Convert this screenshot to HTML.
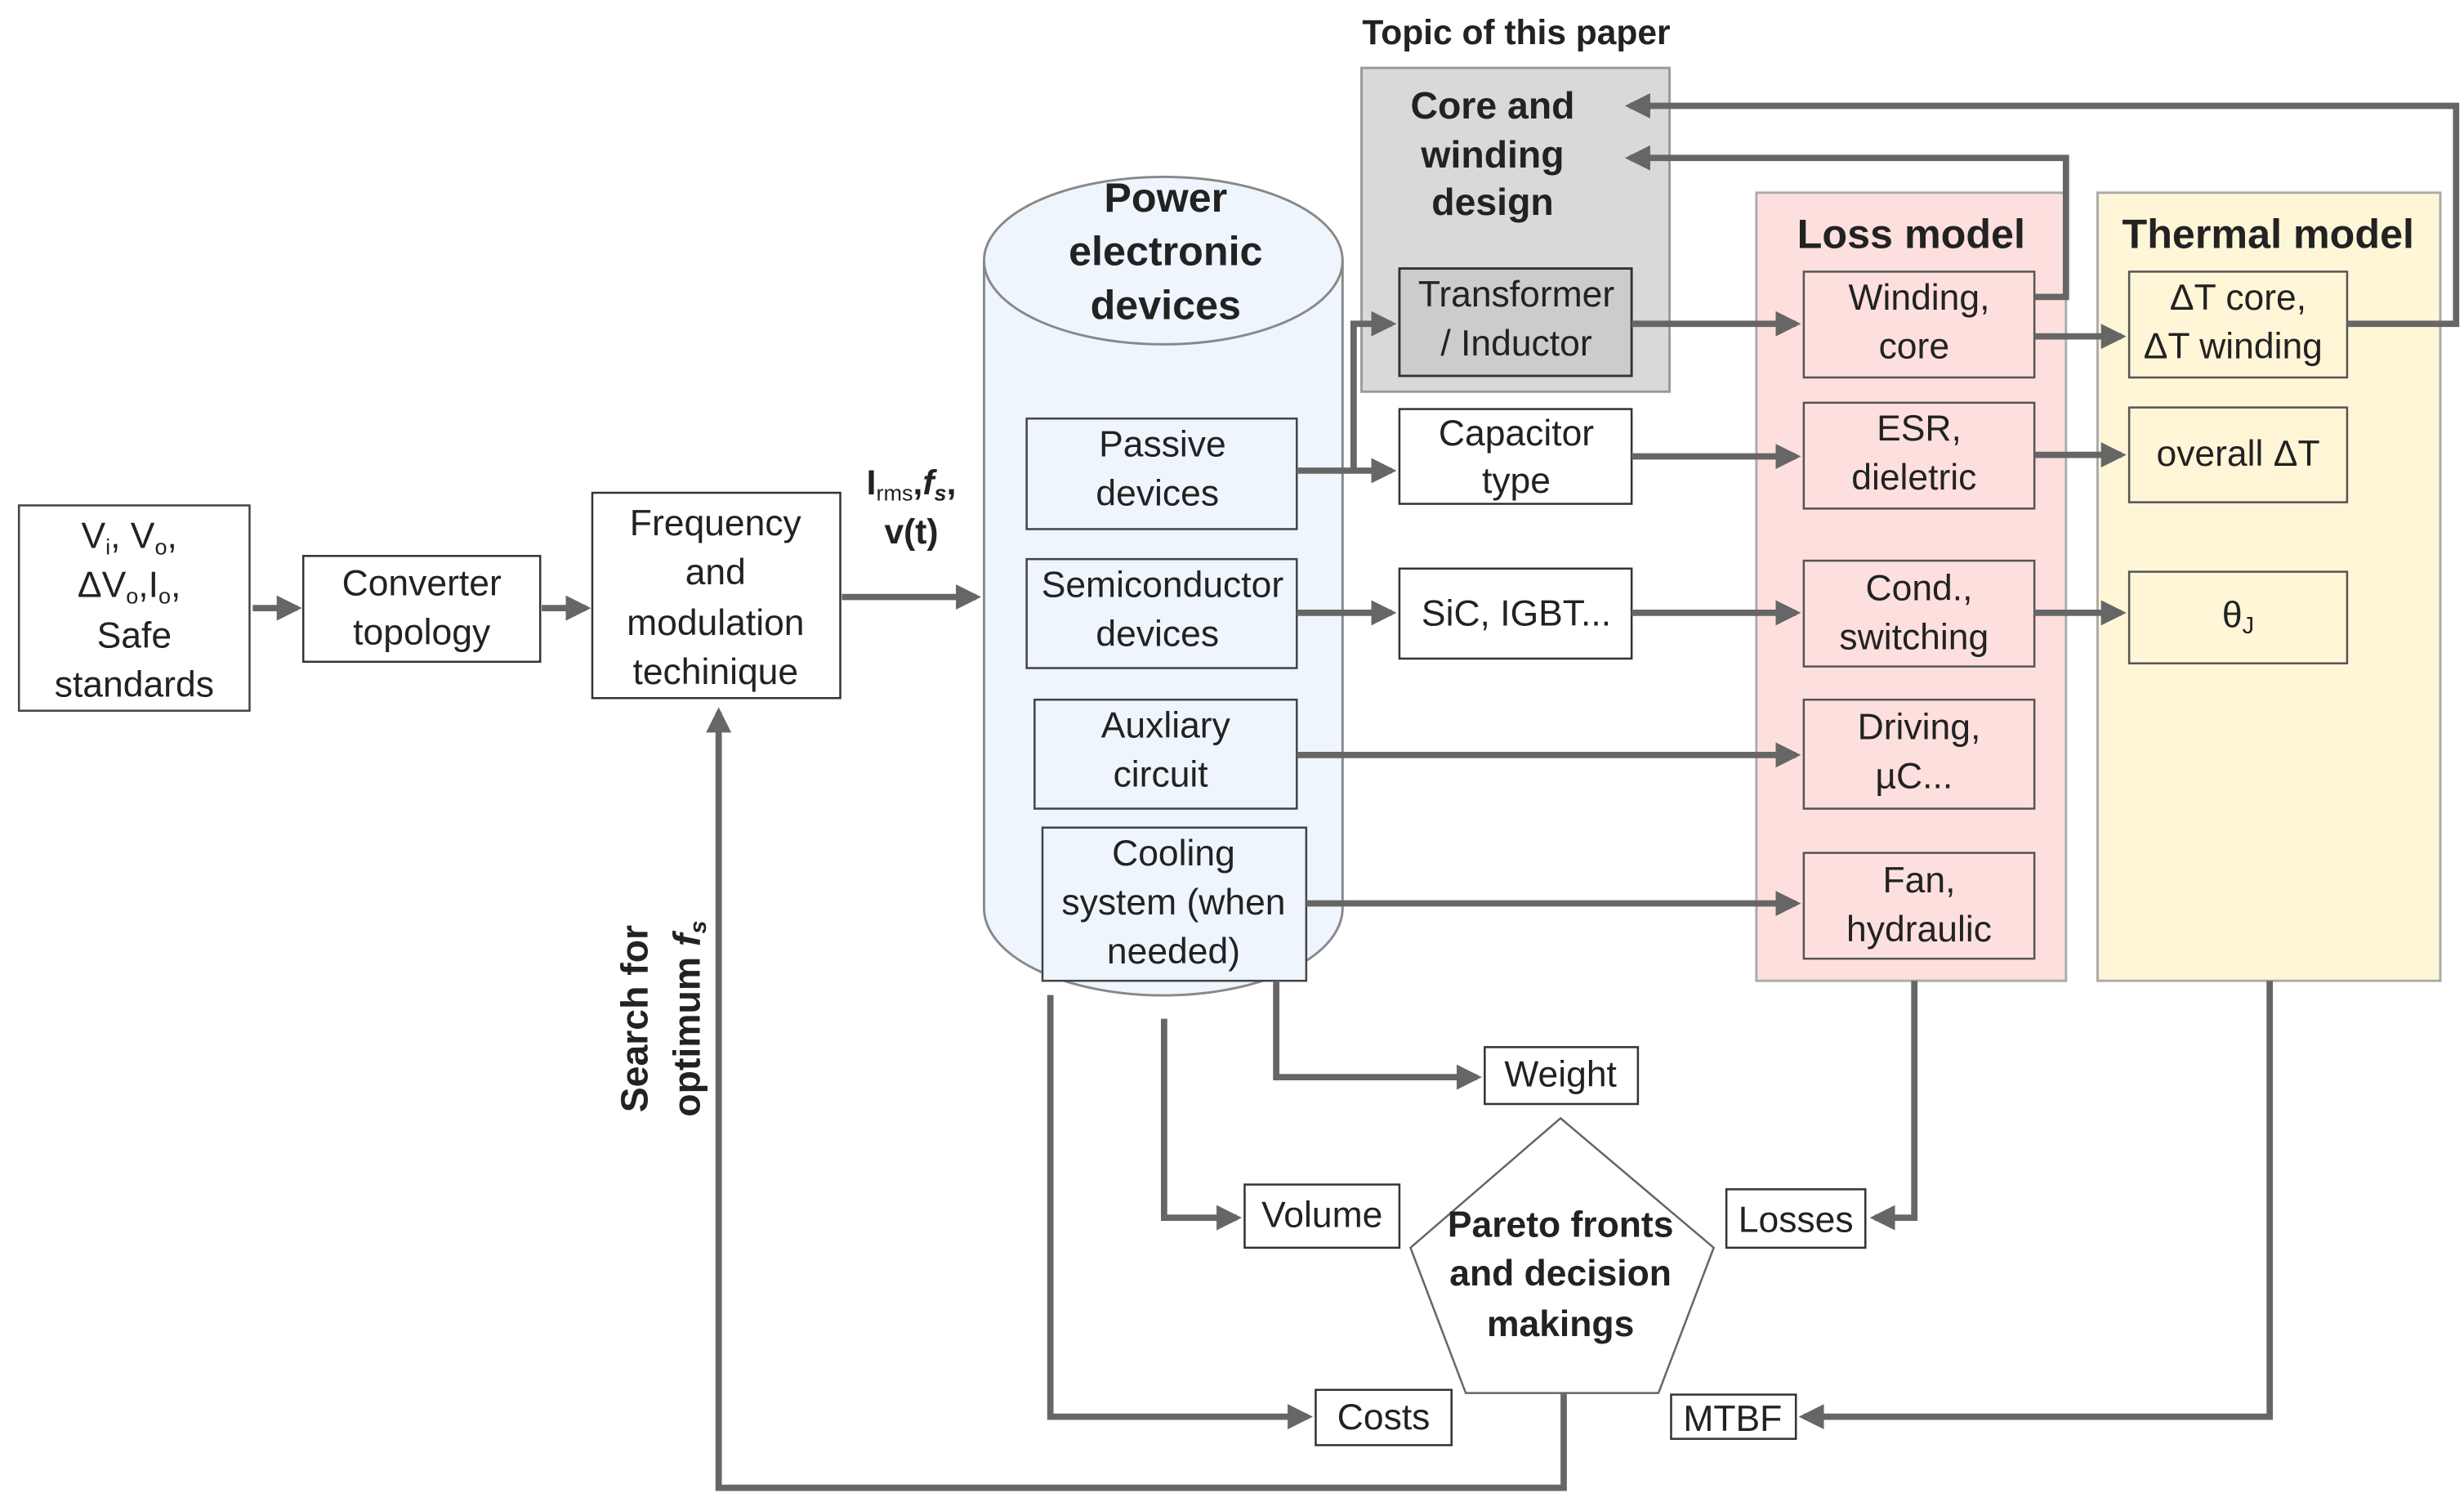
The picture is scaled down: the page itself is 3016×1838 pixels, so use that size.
<!DOCTYPE html>
<html><head><meta charset="utf-8"><style>
html,body{margin:0;padding:0;background:#fff}
svg{display:block}
text{font-family:"Liberation Sans",sans-serif;text-anchor:middle;fill:#222}
.b{font-weight:bold}
</style></head><body>
<svg width="3016" height="1838" viewBox="0 0 1560 951" preserveAspectRatio="none" xmlns="http://www.w3.org/2000/svg">
<defs>
<marker id="a" markerWidth="4" markerHeight="4" refX="3.2" refY="2" orient="auto" markerUnits="strokeWidth"><path d="M0,0 L4,2 L0,4 z" fill="#666"/></marker>
</defs>
<rect width="1560" height="951" fill="#fff"/>
<text x="960" y="28" class="b" font-size="22" fill="#333">Topic of this paper</text>
<rect x="862" y="43" width="195" height="205" fill="#d9d9d9" stroke="#999" stroke-width="1.5"/>
<text class="b" font-size="24" fill="#555"><tspan x="945" y="75">Core and</tspan><tspan x="945" y="106">winding</tspan><tspan x="945" y="136">design</tspan></text>
<rect x="886" y="170" width="147" height="68" fill="#ccc" stroke="#333" stroke-width="1.5"/>
<text font-size="23"><tspan x="960" y="194">Transformer</tspan><tspan x="960" y="225">/ Inductor</tspan></text>
<rect x="1112" y="122" width="196" height="499" fill="#fde0de" stroke="#aaa" stroke-width="1.5"/>
<text x="1210" y="157" class="b" font-size="26">Loss model</text>
<g fill="#fde0de" stroke="#555" stroke-width="1.3">
<rect x="1142" y="172" width="146" height="67"/><rect x="1142" y="255" width="146" height="67"/><rect x="1142" y="355" width="146" height="67"/><rect x="1142" y="443" width="146" height="69"/><rect x="1142" y="540" width="146" height="67"/></g>
<text font-size="23" fill="#333"><tspan x="1215" y="196">Winding,</tspan><tspan x="1215" y="227">core</tspan>
<tspan x="1215" y="279">ESR,</tspan><tspan x="1215" y="310">dieletric</tspan>
<tspan x="1215" y="380">Cond.,</tspan><tspan x="1215" y="411">switching</tspan>
<tspan x="1215" y="468">Driving,</tspan><tspan x="1215" y="499">µC...</tspan>
<tspan x="1215" y="565">Fan,</tspan><tspan x="1215" y="596">hydraulic</tspan></text>
<rect x="1328" y="122" width="217" height="499" fill="#fff6d8" stroke="#aaa" stroke-width="1.5"/>
<text x="1436" y="157" class="b" font-size="26">Thermal model</text>
<g fill="#fff6d8" stroke="#555" stroke-width="1.3">
<rect x="1348" y="172" width="138" height="67"/><rect x="1348" y="258" width="138" height="60"/><rect x="1348" y="362" width="138" height="58"/></g>
<text font-size="23" fill="#333"><tspan x="1417" y="196">ΔT core,</tspan><tspan x="1417" y="227">ΔT winding</tspan>
<tspan x="1417" y="295">overall ΔT</tspan><tspan x="1417" y="397">θ<tspan font-size="15" dy="4">J</tspan></tspan></text>
<rect x="886" y="259" width="147" height="60" fill="#fff" stroke="#333" stroke-width="1.3"/>
<text font-size="23"><tspan x="960" y="282">Capacitor</tspan><tspan x="960" y="312">type</tspan></text>
<rect x="886" y="360" width="147" height="57" fill="#fff" stroke="#333" stroke-width="1.3"/>
<text x="960" y="396" font-size="23">SiC, IGBT...</text>
<path d="M623,165 L623,575 A113,55 0 0 0 850,575 L850,165" fill="#eef5fc" stroke="#888" stroke-width="1.5"/>
<ellipse cx="736.5" cy="165" rx="113.5" ry="53" fill="#eef5fc" stroke="#888" stroke-width="1.5"/>
<text class="b" font-size="26"><tspan x="738" y="134">Power</tspan><tspan x="738" y="168">electronic</tspan><tspan x="738" y="202">devices</tspan></text>
<g fill="#eef5fc" stroke="#444" stroke-width="1.3">
<rect x="650" y="265" width="171" height="70"/><rect x="650" y="354" width="171" height="69"/><rect x="655" y="443" width="166" height="69"/><rect x="660" y="524" width="167" height="97"/></g>
<text font-size="23"><tspan x="736" y="289">Passive</tspan><tspan x="736" y="320">devices</tspan>
<tspan x="736" y="378">Semiconductor</tspan><tspan x="736" y="409">devices</tspan>
<tspan x="738" y="467">Auxliary</tspan><tspan x="738" y="498">circuit</tspan>
<tspan x="743" y="548">Cooling</tspan><tspan x="743" y="579">system (when</tspan><tspan x="743" y="610">needed)</tspan></text>
<rect x="12" y="320" width="146" height="130" fill="#fff" stroke="#444" stroke-width="1.3"/>
<text font-size="23"><tspan x="85" y="347">V<tspan font-size="14" dy="4">i</tspan><tspan dy="-4">, V</tspan><tspan font-size="14" dy="4">o</tspan><tspan dy="-4">,</tspan></tspan>
<tspan x="85" y="378">ΔV<tspan font-size="14" dy="4">o</tspan><tspan dy="-4">,I</tspan><tspan font-size="14" dy="4">o</tspan><tspan dy="-4">,</tspan></tspan>
<tspan x="85" y="410">Safe</tspan><tspan x="85" y="441">standards</tspan></text>
<rect x="192" y="352" width="150" height="67" fill="#fff" stroke="#333" stroke-width="1.3"/>
<text font-size="23"><tspan x="267" y="377">Converter</tspan><tspan x="267" y="408">topology</tspan></text>
<rect x="375" y="312" width="157" height="130" fill="#fff" stroke="#333" stroke-width="1.3"/>
<text font-size="23"><tspan x="453" y="339">Frequency</tspan><tspan x="453" y="370">and</tspan><tspan x="453" y="402">modulation</tspan><tspan x="453" y="433">techinique</tspan></text>
<text class="b" font-size="22" fill="#444"><tspan x="577" y="313">I<tspan font-size="14" dy="4" font-weight="normal">rms</tspan><tspan dy="-4">,</tspan><tspan font-style="italic">f</tspan><tspan font-size="14" dy="4" font-style="italic">s</tspan><tspan dy="-4">,</tspan></tspan><tspan x="577" y="344">v(t)</tspan></text>
<text class="b" font-size="24" fill="#444" transform="translate(410,645) rotate(-90)">Search for</text>
<text class="b" font-size="24" fill="#444" transform="translate(443,645) rotate(-90)">optimum <tspan font-style="italic">f</tspan><tspan font-size="15" dy="4" font-style="italic">s</tspan></text>
<g fill="#fff" stroke="#333" stroke-width="1.3">
<rect x="940" y="663" width="97" height="36"/><rect x="788" y="750" width="98" height="40"/><rect x="1093" y="753" width="88" height="37"/><rect x="833" y="880" width="86" height="35"/><rect x="1058" y="883" width="79" height="28"/></g>
<text font-size="23" fill="#333"><tspan x="988" y="688">Weight</tspan><tspan x="837" y="777">Volume</tspan><tspan x="1137" y="780">Losses</tspan><tspan x="876" y="905">Costs</tspan><tspan x="1097" y="906">MTBF</tspan></text>
<polygon points="988,708 1085,790 1050,882 928,882 893,790" fill="#fff" stroke="#666" stroke-width="1.3"/>
<text class="b" font-size="23" fill="#333"><tspan x="988" y="783">Pareto fronts</tspan><tspan x="988" y="814">and decision</tspan><tspan x="988" y="846">makings</tspan></text>
<g fill="none" stroke="#666" stroke-width="4" marker-end="url(#a)">
<path d="M160,385 H188"/><path d="M343,385 H371"/><path d="M533,378 H618"/>
<path d="M821,298 H881"/><path d="M857,298 V205 H881"/>
<path d="M821,388 H881"/><path d="M1033,388 H1137"/><path d="M1033,289 H1137"/><path d="M1033,205 H1137"/>
<path d="M821,478 H1137"/><path d="M827,572 H1137"/>
<path d="M1288,213 H1343"/><path d="M1288,288 H1343"/><path d="M1288,388 H1343"/>
<path d="M1288,188 H1308 V100 H1032"/><path d="M1486,205 H1555 V67 H1032"/>
<path d="M808,621 V682 H935"/><path d="M737,645 V771 H783"/><path d="M665,630 V897 H828"/>
<path d="M1212,621 V771 H1187"/><path d="M1437,621 V897 H1142"/>
<path d="M990,882 V942 H455 V451"/>
</g>
</svg>
</body></html>
